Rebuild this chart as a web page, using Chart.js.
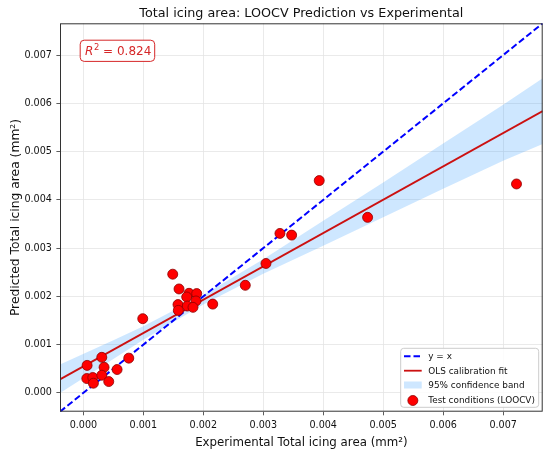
<!DOCTYPE html>
<html><head><meta charset="utf-8">
<script src="https://cdn.jsdelivr.net/npm/chart.js@4.4.0/dist/chart.umd.min.js"></script>
<style>html,body{margin:0;padding:0;background:#fff;overflow:hidden}</style>
</head><body>
<canvas id="c" width="550" height="454"></canvas>
<script>
// ---------------- data ----------------
const expX  = [0.003933, 0.003278, 0.003473, 0.003045, 0.002700, 0.001490, 0.001595, 0.001762, 0.001890, 0.001723,
               0.001878, 0.001578, 0.001733, 0.001828, 0.001583, 0.002157, 0.000990, 0.000757, 0.000307, 0.000062,
               0.000345, 0.000562, 0.000057, 0.000157, 0.000307, 0.000167, 0.000423, 0.004740, 0.007223];
const predY = [0.004400, 0.003305, 0.003270, 0.002682, 0.002230, 0.002460, 0.002154, 0.002064, 0.002058, 0.001988,
               0.001905, 0.001830, 0.001800, 0.001773, 0.001710, 0.001840, 0.001538, 0.000720, 0.000737, 0.000570,
               0.000530, 0.000484, 0.000297, 0.000318, 0.000366, 0.000200, 0.000235, 0.003638, 0.004330];
const axisMin = -0.00039;
const axisMax = 0.00766;
const identityX = [axisMin, axisMax];
const identityY = [axisMin, axisMax];
const fitX = [axisMin, axisMax];
const fitY = [0.00028, 0.00584];
const bandX     = [-0.00039, 0.0005, 0.001, 0.002, 0.003, 0.004, 0.005, 0.006, 0.007, 0.00766];
const bandUpper = [0.00059, 0.00109, 0.00138, 0.00203, 0.00277, 0.00357, 0.00436, 0.00517, 0.00597, 0.00652];
const bandLower = [0.00000, 0.00070, 0.00110, 0.00183, 0.00247, 0.00305, 0.00364, 0.00423, 0.00481, 0.00516];
const tickValues = [0, 0.001, 0.002, 0.003, 0.004, 0.005, 0.006, 0.007];
const titleText = 'Total icing area: LOOCV Prediction vs Experimental';
const xTitle = 'Experimental Total icing area (mm²)';
const yTitle = 'Predicted Total icing area (mm²)';
const r2Value = '0.824';
const legendLabels = ['y = x', 'OLS calibration fit', '95% confidence band', 'Test conditions (LOOCV)'];

// ---------------- styles ----------------
const FONT = 'DejaVu Sans';
const blue = '#0000ff';
const fitRed = '#cc1111';
const ptRed = '#ff0000';
const ptEdge = '#8b0000';
const bandFill = 'rgba(30,144,255,0.22)';
const labelRed = '#d62728';

const zip = (xs, ys) => xs.map((x, i) => ({x: x, y: ys[i]}));

const decor = {
  id: 'decor',
  afterDraw(chart) {
    const ctx = chart.ctx, a = chart.chartArea;
    ctx.save();
    // frame
    ctx.strokeStyle = '#333';
    ctx.lineWidth = 1;
    ctx.strokeRect(a.left + 0.5, a.top + 0.5, a.right - a.left - 1, a.bottom - a.top - 1);
    // title
    ctx.fillStyle = '#111';
    ctx.textAlign = 'center';
    ctx.textBaseline = 'alphabetic';
    ctx.font = '12.75px "' + FONT + '"';
    ctx.fillText(titleText, (a.left + a.right) / 2, 16.7);
    // x title
    ctx.font = '11.8px "' + FONT + '"';
    ctx.fillText(xTitle, (a.left + a.right) / 2, 445.5);
    // y title
    ctx.save();
    ctx.font = '12.3px "' + FONT + '"';
    ctx.translate(18.5, (a.top + a.bottom) / 2);
    ctx.rotate(-Math.PI / 2);
    ctx.fillText(yTitle, 0, 0);
    ctx.restore();

    // R^2 box
    ctx.fillStyle = 'rgba(255,255,255,0.9)';
    ctx.strokeStyle = labelRed;
    ctx.lineWidth = 1;
    ctx.beginPath();
    ctx.roundRect(80.2, 40.2, 74.5, 21.2, 4);
    ctx.fill(); ctx.stroke();
    ctx.fillStyle = labelRed;
    ctx.textAlign = 'left';
    ctx.font = 'italic 12px "' + FONT + '"';
    let x = 85;
    ctx.fillText('R', x, 55.2);
    x += ctx.measureText('R').width + 0.6;
    ctx.font = '8.4px "' + FONT + '"';
    ctx.fillText('2', x, 49.5);
    x += ctx.measureText('2').width;
    ctx.font = '12px "' + FONT + '"';
    ctx.fillText(' = ' + r2Value, x, 55.2);

    // legend
    const lx = 400.7, ly = 348.3, lw = 138, lh = 59;
    ctx.fillStyle = 'rgba(255,255,255,0.85)';
    ctx.strokeStyle = '#cccccc';
    ctx.lineWidth = 1;
    ctx.beginPath();
    ctx.roundRect(lx, ly, lw, lh, 3);
    ctx.fill(); ctx.stroke();
    const rows = [356.2, 370.7, 385.0, 399.7];
    const hx0 = 404, hx1 = 421.7;
    // y=x
    ctx.strokeStyle = blue; ctx.lineWidth = 2; ctx.setLineDash([6.5, 3]);
    ctx.beginPath(); ctx.moveTo(hx0, rows[0]); ctx.lineTo(hx1, rows[0]); ctx.stroke();
    ctx.setLineDash([]);
    // OLS
    ctx.strokeStyle = fitRed; ctx.lineWidth = 1.8;
    ctx.beginPath(); ctx.moveTo(hx0, rows[1]); ctx.lineTo(hx1, rows[1]); ctx.stroke();
    // band
    ctx.fillStyle = bandFill;
    ctx.fillRect(hx0, rows[2] - 3.5, hx1 - hx0, 7);
    // points
    ctx.fillStyle = ptRed; ctx.strokeStyle = ptEdge; ctx.lineWidth = 0.8;
    ctx.beginPath(); ctx.arc((hx0 + hx1) / 2, rows[3] + 0.8, 5, 0, Math.PI * 2); ctx.fill(); ctx.stroke();
    ctx.fillStyle = '#111';
    ctx.font = '8.9px "' + FONT + '"';
    ctx.textBaseline = 'middle';
    legendLabels.forEach((t, i) => ctx.fillText(t, 428.3, rows[i] + 0.5));
    ctx.restore();
  }
};

const fmt = v => Number(v).toFixed(3);
const setTicks = s => { s.ticks = tickValues.map(v => ({value: v})); };

new Chart(document.getElementById('c'), {
  type: 'scatter',
  data: {
    datasets: [
      { label: legendLabels[3], data: zip(expX, predY), order: 0,
        backgroundColor: ptRed, borderColor: ptEdge, borderWidth: 0.8, pointRadius: 5, pointHoverRadius: 5 },
      { label: legendLabels[0], data: zip(identityX, identityY), order: 1, showLine: true,
        borderColor: blue, borderWidth: 2, borderDash: [6.5, 3], pointRadius: 0, fill: false },
      { label: legendLabels[1], data: zip(fitX, fitY), order: 2, showLine: true,
        borderColor: fitRed, borderWidth: 1.8, pointRadius: 0, fill: false },
      { label: legendLabels[2], data: zip(bandX, bandUpper), order: 3, showLine: true,
        borderColor: 'rgba(0,0,0,0)', borderWidth: 0, pointRadius: 0, backgroundColor: bandFill, fill: '+1' },
      { label: 'lower', data: zip(bandX, bandLower), order: 4, showLine: true,
        borderColor: 'rgba(0,0,0,0)', borderWidth: 0, pointRadius: 0, fill: false }
    ]
  },
  options: {
    responsive: false,
    animation: false,
    devicePixelRatio: 1,
    layout: { padding: { top: 23.3, right: 7.3, left: 0, bottom: 0 } },
    plugins: { legend: { display: false }, tooltip: { enabled: false }, title: { display: false } },
    scales: {
      x: {
        type: 'linear', min: axisMin, max: axisMax,
        afterBuildTicks: setTicks,
        afterFit: s => { s.height = 42.3; },
        border: { display: false },
        grid: { color: '#e4e4e4', lineWidth: 0.8, tickColor: '#333', tickLength: 3.6, drawTicks: true },
        ticks: { callback: fmt, color: '#111', font: { family: FONT, size: 9.6 }, padding: 4.5, maxRotation: 0, autoSkip: false }
      },
      y: {
        type: 'linear', min: axisMin, max: axisMax,
        afterBuildTicks: setTicks,
        afterFit: s => { s.width = 60; },
        border: { display: false },
        grid: { color: '#e4e4e4', lineWidth: 0.8, tickColor: '#333', tickLength: 3.6, drawTicks: true },
        ticks: { callback: fmt, color: '#111', font: { family: FONT, size: 9.6 }, padding: 4.5, autoSkip: false }
      }
    }
  },
  plugins: [decor]
});
</script>
</body></html>
